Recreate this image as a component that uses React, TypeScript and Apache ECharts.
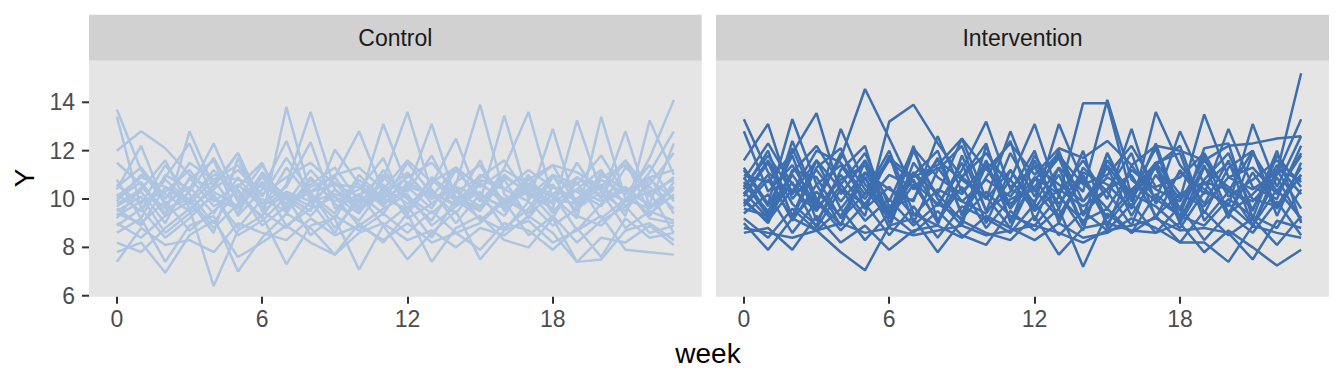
import React, { useEffect, useRef } from "react";
import * as echarts from "echarts";

const weeks: number[] = [0, 1, 2, 3, 4, 5, 6, 7, 8, 9, 10, 11, 12, 13, 14, 15, 16, 17, 18, 19, 20, 21, 22, 23];
const panelLabels: string[] = ["Control", "Intervention"];
const xTicks: number[] = [0, 6, 12, 18];
const yTicks: number[] = [6, 8, 10, 12, 14];

const controlSubjects: number[][] = [
  [13.7, 11.2, 9.8, 10.5, 9.4, 10.9, 9.6, 11.3, 10.1, 9.2, 10.8, 9.9, 11.5, 10.2, 9.4, 10.7, 9.8, 11.0, 9.5, 10.4, 11.2, 9.7, 10.6, 11.9],
  [13.4, 9.6, 10.8, 9.9, 11.2, 10.1, 9.3, 10.6, 13.6, 10.4, 9.5, 10.9, 10.0, 9.1, 10.7, 11.4, 9.8, 10.3, 9.2, 10.9, 10.1, 11.6, 9.4, 10.2],
  [12.0, 12.8, 12.1, 11.0, 10.3, 9.7, 10.9, 9.8, 10.6, 11.3, 9.9, 13.1, 10.5, 9.6, 11.2, 10.0, 9.3, 10.8, 11.4, 9.7, 10.5, 9.9, 11.1, 12.8],
  [11.5, 10.6, 9.3, 12.8, 10.5, 11.9, 9.5, 10.2, 9.7, 10.9, 12.8, 10.3, 9.4, 10.6, 12.5, 9.9, 11.0, 10.2, 9.6, 13.25, 10.3, 9.5, 10.8, 10.0],
  [10.6, 9.8, 11.4, 10.2, 9.0, 10.5, 11.5, 9.4, 10.8, 9.9, 10.4, 11.7, 9.5, 10.9, 10.1, 9.6, 11.3, 13.6, 10.0, 9.8, 11.0, 10.4, 9.3, 10.7],
  [10.4, 12.2, 9.7, 10.8, 11.6, 9.3, 10.4, 12.4, 9.9, 10.7, 9.5, 10.3, 11.1, 9.8, 10.6, 13.9, 10.2, 9.4, 10.9, 10.3, 9.7, 11.3, 10.5, 9.6],
  [10.2, 9.5, 10.9, 12.3, 10.0, 9.6, 10.7, 9.8, 11.2, 10.1, 9.4, 10.8, 13.6, 10.3, 9.7, 11.0, 10.4, 9.9, 12.9, 9.6, 10.8, 10.2, 11.4, 9.9],
  [10.0, 10.7, 9.4, 10.3, 11.7, 9.9, 11.0, 10.1, 9.5, 12.05, 10.6, 9.8, 10.4, 13.1, 10.0, 9.5, 10.9, 10.3, 9.8, 11.5, 10.0, 12.8, 9.7, 10.5],
  [9.9, 11.0, 10.2, 9.5, 10.6, 11.9, 9.8, 10.5, 12.35, 9.6, 10.2, 9.4, 10.7, 10.1, 11.3, 9.9, 13.45, 10.0, 10.6, 9.5, 11.1, 10.3, 9.8, 12.3],
  [9.7, 10.3, 9.0, 10.9, 9.7, 10.3, 9.2, 13.8, 10.2, 9.4, 11.0, 10.0, 9.6, 10.8, 9.9, 11.6, 9.5, 10.5, 10.1, 9.2, 13.4, 10.0, 10.9, 9.4],
  [9.6, 8.9, 10.5, 9.8, 10.8, 9.4, 11.1, 10.0, 9.3, 10.4, 9.7, 11.2, 10.1, 9.4, 10.3, 9.7, 10.8, 9.2, 10.5, 9.9, 10.6, 9.3, 13.25, 11.0],
  [9.5, 10.1, 8.6, 9.4, 10.1, 8.8, 10.0, 9.5, 10.9, 9.8, 9.1, 10.5, 9.8, 10.4, 9.0, 10.2, 9.6, 10.9, 9.4, 10.7, 9.2, 10.0, 9.6, 10.4],
  [9.4, 9.0, 9.9, 8.7, 9.5, 10.4, 8.9, 9.7, 10.3, 8.8, 9.9, 10.6, 9.2, 9.8, 10.5, 9.1, 10.0, 9.4, 10.2, 8.7, 9.8, 10.4, 9.2, 9.0],
  [9.2, 10.5, 9.6, 10.0, 8.8, 9.8, 10.6, 8.9, 9.6, 10.1, 8.9, 9.6, 10.2, 8.9, 9.7, 10.3, 8.8, 9.6, 11.0, 9.3, 8.9, 9.9, 10.3, 8.6],
  [9.0, 8.4, 9.3, 9.9, 8.6, 11.7, 9.5, 8.8, 9.9, 8.6, 10.2, 8.9, 9.7, 8.4, 10.0, 9.2, 8.7, 9.9, 8.9, 9.6, 10.3, 8.8, 9.5, 9.1],
  [8.9, 9.6, 8.4, 9.2, 10.2, 8.5, 9.1, 10.1, 8.5, 9.3, 8.7, 9.4, 8.6, 9.5, 8.6, 9.0, 9.9, 8.5, 9.3, 8.2, 9.1, 9.7, 8.6, 8.9],
  [8.6, 9.2, 7.4, 8.9, 9.3, 7.0, 8.4, 9.4, 8.8, 7.7, 9.0, 8.2, 9.4, 7.4, 8.8, 9.3, 8.3, 8.0, 9.2, 7.4, 7.5, 8.7, 9.0, 8.3],
  [8.2, 7.8, 8.8, 9.6, 6.4, 8.7, 9.3, 7.3, 8.9, 9.2, 7.08, 8.9, 7.5, 8.6, 9.5, 7.5, 8.7, 9.1, 8.2, 8.7, 9.3, 7.9, 7.8, 7.7],
  [7.8, 8.2, 6.95, 8.5, 9.1, 7.6, 8.2, 8.9, 8.2, 7.7, 8.6, 9.0, 8.3, 8.7, 8.0, 8.8, 8.5, 9.3, 8.6, 7.4, 8.4, 8.2, 8.9, 8.1],
  [7.4, 8.8, 8.1, 8.3, 7.8, 9.0, 8.6, 8.3, 9.2, 8.5, 8.9, 8.3, 9.0, 8.2, 8.6, 7.9, 9.0, 8.7, 7.9, 8.8, 7.6, 9.2, 8.4, 8.6],
  [10.8, 9.2, 11.0, 10.4, 12.3, 10.0, 11.4, 9.6, 10.5, 10.9, 9.6, 10.2, 10.9, 11.5, 10.3, 10.9, 11.6, 10.1, 11.0, 10.6, 11.8, 10.2, 10.9, 11.2],
  [10.5, 11.3, 10.0, 11.5, 10.8, 11.4, 10.1, 11.7, 10.3, 11.0, 11.3, 10.4, 11.6, 10.7, 11.3, 10.5, 11.2, 10.6, 11.4, 11.1, 10.5, 11.6, 10.3, 10.8],
  [9.8, 10.4, 11.6, 9.6, 10.4, 11.2, 10.2, 10.9, 11.5, 10.6, 10.1, 11.0, 10.3, 11.8, 9.9, 10.8, 10.4, 11.2, 10.5, 10.0, 10.9, 11.4, 10.1, 10.9],
  [9.3, 9.9, 10.3, 11.2, 9.9, 10.6, 9.7, 10.3, 9.9, 10.2, 9.9, 10.1, 10.5, 10.2, 9.8, 10.6, 10.0, 10.4, 9.9, 10.4, 9.9, 10.5, 9.7, 10.1],
  [10.1, 10.9, 10.5, 10.0, 11.0, 10.8, 10.5, 10.0, 10.3, 10.6, 10.5, 9.7, 11.0, 10.0, 10.5, 10.1, 9.7, 10.6, 10.2, 10.9, 10.4, 9.9, 11.7, 14.1],
];

const interventionSubjects: number[][] = [
  [13.3, 11.1, 10.2, 11.6, 10.4, 9.8, 11.0, 10.5, 11.3, 9.9, 10.8, 10.1, 11.4, 10.6, 9.9, 10.9, 10.3, 11.5, 10.2, 9.7, 10.9, 10.4, 11.1, 15.2],
  [12.8, 10.3, 11.4, 9.7, 12.9, 10.6, 9.6, 11.1, 10.2, 12.5, 10.0, 11.2, 9.8, 13.1, 10.7, 9.6, 11.2, 10.4, 9.9, 11.6, 10.3, 9.9, 11.0, 13.3],
  [11.6, 13.1, 10.0, 11.2, 9.9, 11.1, 10.4, 9.9, 12.6, 10.3, 11.3, 9.6, 10.9, 10.2, 11.6, 10.0, 12.9, 9.8, 11.1, 10.4, 9.7, 13.1, 10.5, 12.6],
  [11.3, 9.8, 13.3, 10.6, 11.4, 10.0, 11.6, 10.7, 9.8, 11.2, 13.2, 10.4, 9.9, 11.3, 10.3, 14.1, 10.8, 9.9, 12.8, 10.6, 11.5, 10.0, 9.7, 11.3],
  [11.0, 10.7, 11.9, 13.55, 10.2, 11.6, 9.9, 12.1, 10.9, 10.2, 11.5, 10.8, 13.1, 10.1, 13.96, 13.96, 10.1, 11.3, 10.0, 13.5, 10.9, 11.3, 10.2, 11.9],
  [10.8, 12.3, 10.6, 9.9, 11.7, 14.55, 12.5, 10.4, 11.6, 10.8, 10.0, 12.8, 10.3, 11.8, 10.6, 11.0, 12.2, 10.5, 10.9, 11.9, 10.1, 10.8, 11.6, 10.7],
  [10.6, 9.5, 11.1, 12.2, 10.6, 9.3, 13.2, 13.9, 12.3, 10.9, 11.9, 10.5, 11.3, 9.8, 11.1, 10.6, 9.6, 13.6, 11.4, 10.2, 12.9, 10.5, 10.0, 12.2],
  [10.4, 12.0, 9.2, 11.3, 12.1, 9.6, 11.8, 9.0, 11.2, 12.2, 9.5, 11.9, 10.1, 12.0, 9.3, 11.9, 9.6, 11.4, 12.2, 9.4, 11.3, 12.0, 9.6, 11.0],
  [10.3, 9.2, 12.4, 10.0, 8.9, 11.6, 9.4, 12.2, 9.1, 10.9, 12.3, 9.0, 11.6, 9.6, 12.0, 8.8, 11.4, 10.0, 9.3, 12.1, 12.3, 9.2, 11.8, 10.5],
  [10.2, 11.6, 9.8, 8.9, 11.2, 12.2, 9.0, 11.0, 12.0, 9.3, 10.9, 12.4, 9.1, 11.3, 8.9, 11.6, 10.2, 12.1, 9.2, 10.8, 11.9, 9.5, 12.0, 9.0],
  [10.0, 9.0, 11.2, 10.9, 9.2, 10.2, 12.0, 9.4, 8.9, 11.8, 9.5, 10.3, 12.0, 9.0, 11.3, 10.3, 8.9, 11.5, 11.9, 9.1, 10.3, 12.0, 9.3, 11.5],
  [9.9, 9.1, 10.4, 9.5, 11.0, 9.6, 10.5, 9.3, 10.4, 9.9, 9.4, 10.8, 9.5, 10.4, 9.7, 10.4, 11.0, 9.3, 10.2, 10.7, 9.4, 10.2, 11.2, 9.6],
  [9.7, 10.8, 9.2, 10.3, 9.3, 10.9, 9.2, 10.6, 9.1, 10.5, 8.8, 10.0, 10.4, 9.2, 10.9, 9.0, 10.2, 9.7, 8.8, 10.3, 9.8, 8.9, 10.4, 9.2],
  [9.6, 9.3, 10.7, 8.8, 10.4, 9.1, 10.0, 8.9, 9.8, 9.2, 10.3, 9.3, 8.9, 10.1, 9.1, 9.6, 8.6, 10.2, 9.3, 8.9, 10.0, 9.3, 8.8, 10.4],
  [9.4, 10.2, 8.6, 9.9, 8.7, 9.8, 8.5, 9.7, 8.4, 9.7, 9.2, 8.6, 9.8, 8.5, 9.5, 8.7, 9.8, 8.6, 9.7, 8.3, 9.4, 8.6, 9.9, 8.5],
  [9.2, 8.4, 9.6, 8.7, 9.6, 8.3, 9.4, 8.6, 9.5, 8.5, 8.1, 9.5, 8.7, 9.6, 7.2, 9.4, 8.6, 9.3, 8.2, 9.5, 8.5, 9.2, 8.1, 9.3],
  [9.0, 7.9, 9.2, 8.7, 7.8, 7.05, 8.9, 9.2, 7.8, 9.1, 8.6, 8.3, 9.3, 7.7, 8.8, 9.0, 8.7, 8.6, 9.0, 7.8, 8.7, 8.0, 7.25, 7.9],
  [8.6, 8.8, 7.9, 9.3, 8.2, 8.9, 7.9, 8.7, 8.9, 8.4, 9.3, 8.8, 8.3, 9.0, 8.4, 8.6, 9.2, 8.8, 8.2, 8.2, 7.4, 8.9, 8.6, 8.4],
  [8.8, 8.6, 8.4, 8.7, 9.0, 8.6, 8.8, 8.5, 8.7, 8.9, 8.5, 8.7, 8.9, 8.6, 8.2, 8.7, 8.9, 9.2, 8.7, 8.8, 8.6, 7.5, 9.1, 8.8],
  [10.5, 11.8, 10.3, 12.0, 11.5, 10.2, 11.7, 10.9, 11.4, 12.5, 11.2, 12.3, 11.0, 12.1, 11.7, 12.4, 11.4, 12.2, 12.0, 11.6, 12.2, 12.3, 12.5, 12.6],
  [10.9, 9.4, 12.1, 9.8, 11.9, 10.4, 9.2, 12.0, 10.0, 8.9, 12.2, 9.6, 11.8, 10.2, 8.7, 11.9, 9.9, 12.3, 9.5, 11.4, 9.2, 11.9, 10.3, 11.8],
  [10.1, 11.5, 9.3, 11.6, 9.6, 10.9, 8.8, 11.5, 10.2, 9.1, 11.4, 9.8, 10.5, 11.7, 9.4, 10.4, 11.9, 9.2, 11.2, 9.8, 11.6, 8.9, 11.2, 10.8],
  [11.2, 9.7, 11.8, 9.1, 10.6, 11.9, 9.7, 10.0, 11.7, 9.4, 11.6, 9.1, 10.8, 11.9, 9.9, 11.3, 9.3, 11.0, 9.6, 11.8, 9.4, 11.1, 9.7, 11.0],
  [9.8, 11.0, 9.1, 10.6, 8.9, 11.1, 9.5, 10.8, 9.0, 10.9, 10.1, 8.8, 10.9, 9.3, 11.0, 9.2, 10.4, 11.3, 9.0, 10.7, 10.4, 8.9, 10.9, 9.1],
  [10.7, 9.3, 11.0, 9.6, 10.8, 11.4, 9.2, 11.1, 9.7, 11.5, 9.0, 11.2, 9.6, 11.0, 8.9, 11.4, 10.0, 11.5, 9.1, 11.3, 10.5, 9.6, 11.4, 10.2],
];

const FONT = "Liberation Sans, Arial, Helvetica, sans-serif";
const groupColors = ["#aec5e2", "#3d6eb0"];

export default function App() {
  const ref = useRef<HTMLDivElement>(null);
  useEffect(() => {
    document.body.style.margin = "0";
    if (!ref.current) return;
    const chart = echarts.init(ref.current, undefined, { renderer: "svg" });
    const grids = [
      { left: 89, top: 60.7, width: 612.7, height: 236 },
      { left: 716, top: 60.7, width: 613, height: 236 },
    ];
    const groups = [controlSubjects, interventionSubjects];
    const series: any[] = [];
    groups.forEach((subjects, gi) => {
      subjects.forEach((vals, si) => {
        series.push({
          type: "line",
          name: panelLabels[gi] + " " + (si + 1),
          xAxisIndex: gi,
          yAxisIndex: gi,
          data: weeks.map((w, k) => [w, vals[k]]),
          showSymbol: false,
          symbol: "none",
          silent: true,
          lineStyle: { color: groupColors[gi], width: 2.5 },
          emphasis: { disabled: true },
        });
      });
    });
    const xAxes = grids.map((_, gi) => ({
      type: "value",
      gridIndex: gi,
      min: -1.15,
      max: 24.15,
      axisLine: { show: false },
      splitLine: { show: false },
      axisTick: { show: true, length: 7, customValues: xTicks, lineStyle: { color: "#333333", width: 2 } },
      axisLabel: { show: true, customValues: xTicks, margin: 11, color: "#4d4d4d", fontSize: 23, fontFamily: FONT },
    }));
    const yAxes = grids.map((_, gi) => ({
      type: "value",
      gridIndex: gi,
      min: 5.96,
      max: 15.72,
      axisLine: { show: false },
      splitLine: { show: false },
      axisTick: { show: false },
      axisLabel: { show: gi === 0, customValues: yTicks, margin: 14, color: "#4d4d4d", fontSize: 23, fontFamily: FONT },
    }));
    chart.setOption({
      animation: false,
      backgroundColor: "#ffffff",
      grid: grids.map((g) => ({ ...g, show: true, backgroundColor: "#e5e5e5", borderWidth: 0 })),
      xAxis: xAxes,
      yAxis: yAxes,
      series,
    });
    const graphic: any[] = [];
    grids.forEach((g, gi) => {
      graphic.push({
        type: "rect",
        shape: { x: g.left, y: 14.7, width: g.width, height: 46 },
        style: { fill: "#d1d1d1" },
        silent: true,
      });
      graphic.push({
        type: "text",
        x: g.left + g.width / 2,
        y: 38,
        style: { text: panelLabels[gi], fill: "#1a1a1a", fontSize: 23, fontFamily: FONT, align: "center", verticalAlign: "middle" },
        silent: true,
      });
    });
    yTicks.forEach((v) => {
      const py = chart.convertToPixel({ yAxisIndex: 0 }, v) as number;
      graphic.push({
        type: "line",
        shape: { x1: grids[0].left - 7, y1: py, x2: grids[0].left, y2: py },
        style: { stroke: "#333333", lineWidth: 2 },
        silent: true,
      });
    });
    graphic.push({
      type: "text",
      x: 708,
      y: 353,
      style: { text: "week", fill: "#000000", fontSize: 28, fontFamily: FONT, align: "center", verticalAlign: "middle" },
      silent: true,
    });
    graphic.push({
      type: "text",
      x: 24,
      y: 178,
      rotation: Math.PI / 2,
      style: { text: "Y", fill: "#000000", fontSize: 28, fontFamily: FONT, align: "center", verticalAlign: "middle" },
      silent: true,
    });
    chart.setOption({ graphic });
    return () => chart.dispose();
  }, []);
  return <div ref={ref} style={{ width: 1344, height: 384 }} />;
}
